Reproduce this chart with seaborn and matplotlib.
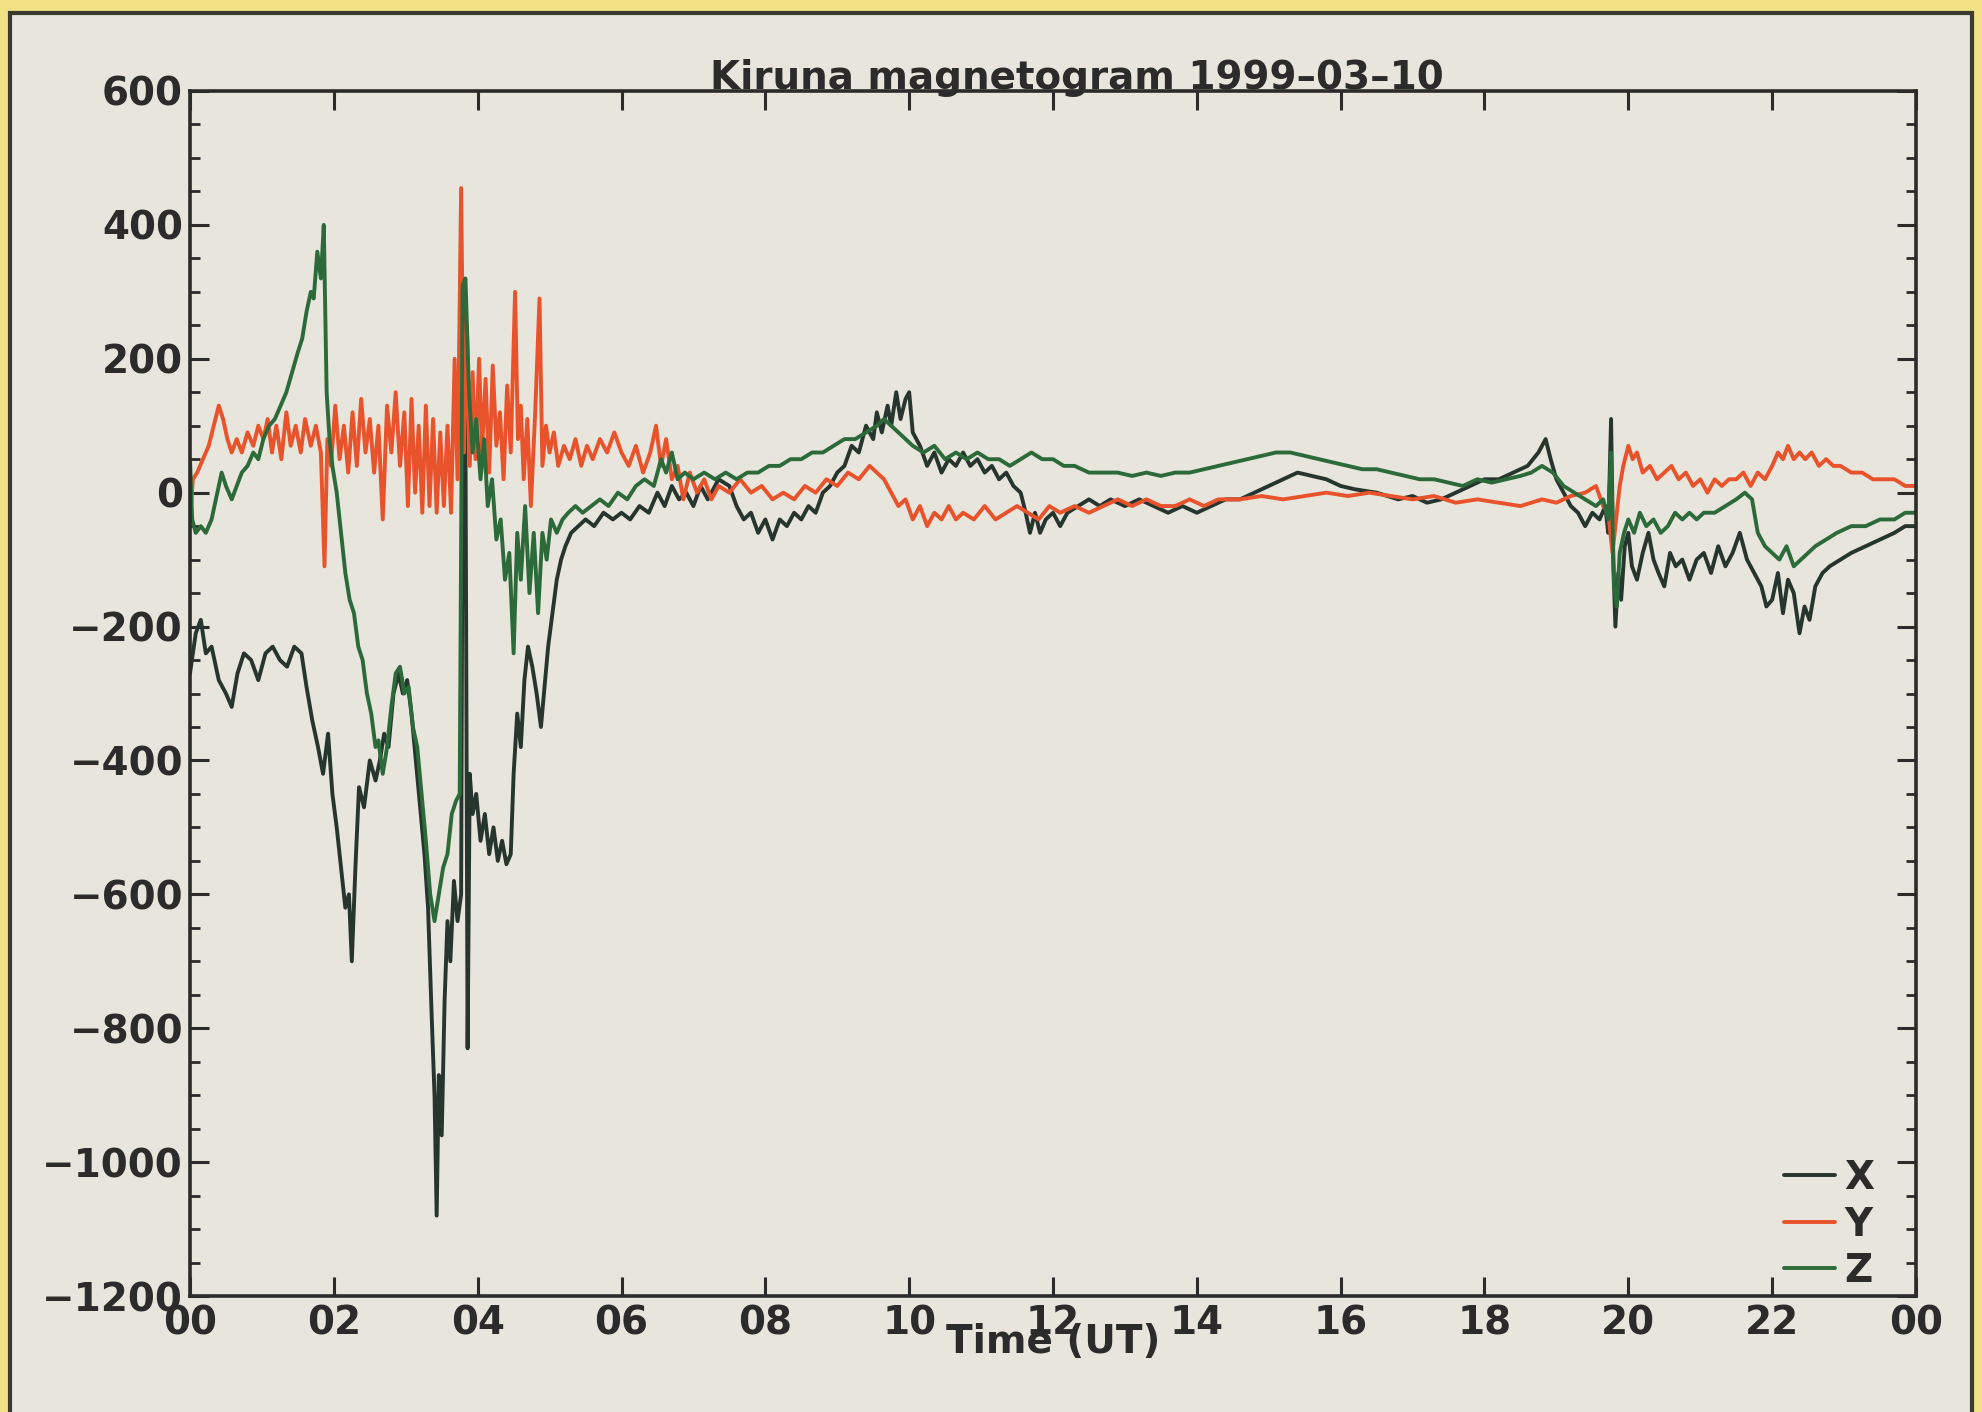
import numpy as np
import pandas as pd
import matplotlib
matplotlib.use("Agg")
import matplotlib.pyplot as plt
from matplotlib.patches import Rectangle
from matplotlib.ticker import MultipleLocator, FixedLocator, FixedFormatter
import seaborn as sns

# ---------------- data ----------------
tx = [0.00,0.08,0.15,0.22,0.30,0.40,0.50,0.58,0.66,0.75,0.85,0.95,1.05,1.15,1.25,1.35,1.45,1.55,1.62,1.70,
      1.78,1.85,1.92,1.98,2.04,2.10,2.16,2.21,2.25,2.30,2.35,2.42,2.50,2.58,2.64,2.70,2.76,2.83,2.90,2.96,
      3.02,3.08,3.14,3.20,3.26,3.31,3.36,3.40,3.43,3.46,3.50,3.54,3.58,3.62,3.67,3.72,3.77,3.80,3.83,3.86,
      3.89,3.93,3.98,4.04,4.10,4.16,4.22,4.28,4.34,4.40,4.46,4.50,4.55,4.60,4.65,4.70,4.76,4.82,4.88,4.93,
      4.98,5.04,5.10,5.16,5.22,5.30,5.40,5.50,5.62,5.75,5.88,6.00,6.12,6.25,6.38,6.50,6.60,6.70,6.80,6.90,
      7.00,7.10,7.20,7.35,7.50,7.60,7.70,7.80,7.90,8.00,8.10,8.20,8.30,8.40,8.50,8.60,8.70,8.80,8.90,9.00,
      9.10,9.20,9.30,9.40,9.50,9.55,9.62,9.70,9.75,9.82,9.88,9.95,10.00,10.05,10.15,10.25,10.35,10.45,10.55,10.65,
      10.75,10.85,10.95,11.05,11.15,11.25,11.35,11.45,11.55,11.62,11.68,11.75,11.82,11.90,12.00,12.10,12.20,12.35,12.50,12.65,
      12.80,13.00,13.20,13.40,13.60,13.80,14.00,14.20,14.40,14.60,14.80,15.00,15.20,15.40,15.60,15.80,16.00,16.20,16.50,16.80,
      17.00,17.20,17.40,17.60,17.80,18.00,18.20,18.40,18.60,18.75,18.85,18.92,19.00,19.10,19.20,19.30,19.40,19.50,19.60,19.68,
      19.72,19.76,19.79,19.82,19.86,19.90,19.95,20.00,20.05,20.12,20.20,20.28,20.35,20.42,20.50,20.58,20.66,20.75,20.85,20.95,
      21.05,21.15,21.25,21.35,21.45,21.55,21.65,21.75,21.85,21.92,22.00,22.08,22.15,22.22,22.30,22.38,22.45,22.52,22.60,22.70,
      22.80,22.95,23.10,23.30,23.50,23.70,23.85,24.00]
vx = [-270,-210,-190,-240,-230,-280,-300,-320,-270,-240,-250,-280,-240,-230,-250,-260,-230,-240,-290,-340,
      -380,-420,-360,-450,-500,-560,-620,-600,-700,-560,-440,-470,-400,-430,-400,-360,-380,-300,-270,-300,
      -280,-330,-400,-470,-540,-620,-780,-900,-1080,-870,-960,-760,-640,-700,-580,-640,-600,320,100,-830,
      -420,-480,-450,-520,-480,-540,-500,-550,-520,-555,-540,-420,-330,-380,-280,-230,-260,-300,-350,-290,
      -230,-180,-130,-100,-80,-60,-50,-40,-50,-30,-40,-30,-40,-20,-30,0,-20,10,-10,0,
      -20,10,-10,20,10,-20,-40,-30,-60,-40,-70,-40,-50,-30,-40,-20,-30,0,10,30,
      40,70,60,100,80,120,90,130,100,150,110,140,150,90,70,40,60,30,50,40,
      60,40,50,30,40,20,30,10,0,-30,-60,-30,-60,-40,-30,-50,-30,-20,-10,-20,
      -10,-20,-10,-20,-30,-20,-30,-20,-10,-10,0,10,20,30,25,20,10,5,0,-10,
      -5,-15,-10,0,10,20,20,30,40,60,80,50,20,0,-20,-30,-50,-30,-40,-20,
      -60,110,-100,-200,-120,-160,-80,-60,-110,-130,-90,-60,-100,-120,-140,-90,-110,-100,-130,-100,
      -90,-120,-80,-110,-90,-60,-100,-120,-140,-170,-160,-120,-180,-130,-150,-210,-170,-190,-140,-120,
      -110,-100,-90,-80,-70,-60,-50,-50]

ty = [0.00,0.04,0.10,0.18,0.26,0.33,0.40,0.46,0.52,0.58,0.65,0.72,0.80,0.88,0.95,1.02,1.08,1.14,1.20,1.27,
      1.34,1.40,1.47,1.54,1.60,1.68,1.75,1.82,1.87,1.91,1.96,2.02,2.08,2.14,2.20,2.26,2.32,2.38,2.44,2.50,
      2.56,2.62,2.68,2.74,2.80,2.86,2.92,2.98,3.03,3.08,3.13,3.18,3.23,3.28,3.33,3.38,3.43,3.48,3.53,3.58,
      3.63,3.68,3.72,3.77,3.81,3.85,3.89,3.93,3.97,4.02,4.06,4.11,4.16,4.21,4.26,4.31,4.36,4.41,4.46,4.52,
      4.56,4.60,4.64,4.69,4.74,4.80,4.86,4.90,4.95,5.00,5.06,5.12,5.20,5.28,5.36,5.44,5.52,5.60,5.70,5.80,
      5.90,6.00,6.10,6.20,6.30,6.40,6.48,6.55,6.62,6.70,6.78,6.86,6.95,7.05,7.15,7.25,7.35,7.50,7.65,7.80,
      7.95,8.10,8.25,8.40,8.55,8.70,8.85,9.00,9.15,9.30,9.45,9.55,9.65,9.75,9.85,9.95,10.05,10.15,10.25,10.35,
      10.45,10.55,10.65,10.75,10.90,11.05,11.20,11.35,11.50,11.65,11.80,11.95,12.10,12.30,12.50,12.70,12.90,13.10,13.30,13.50,
      13.70,13.90,14.10,14.30,14.60,14.90,15.20,15.50,15.80,16.10,16.40,16.70,17.00,17.30,17.60,17.90,18.20,18.50,18.80,19.00,
      19.20,19.40,19.55,19.65,19.72,19.78,19.83,19.88,19.93,20.00,20.06,20.12,20.20,20.30,20.40,20.50,20.60,20.70,20.80,20.90,
      21.00,21.10,21.20,21.30,21.40,21.50,21.60,21.70,21.80,21.90,22.00,22.08,22.15,22.22,22.30,22.38,22.46,22.55,22.65,22.75,
      22.85,22.95,23.10,23.25,23.40,23.55,23.70,23.85,24.00]
vy = [-40,20,30,50,70,100,130,110,80,60,80,60,90,70,100,80,110,60,100,50,
      120,70,100,60,110,70,100,60,-110,80,40,130,50,100,30,120,40,140,60,110,
      30,100,-40,130,60,150,40,120,-20,140,0,100,-30,130,-20,110,-30,90,-20,100,
      -30,200,20,455,60,250,40,180,50,200,60,170,30,190,70,120,20,160,60,300,
      80,130,20,110,-20,120,290,40,100,60,90,40,70,50,80,40,70,50,80,60,
      90,60,40,70,30,60,100,40,80,20,40,-10,30,0,20,-10,10,0,20,0,
      10,-10,0,-10,10,0,20,10,30,20,40,30,20,0,-20,-10,-40,-20,-50,-30,
      -40,-20,-40,-30,-40,-20,-40,-30,-20,-30,-40,-20,-30,-20,-30,-20,-10,-20,-10,-20,
      -20,-10,-20,-10,-10,-5,-10,-5,0,-5,0,-5,-10,-5,-15,-10,-15,-20,-10,-15,
      -5,0,10,-20,-30,-90,-40,10,40,70,50,60,30,40,20,30,40,20,30,10,
      20,0,20,10,20,20,30,10,30,20,40,60,50,70,50,60,50,60,40,50,
      40,40,30,30,20,20,20,10,10]

tz = [0.00,0.03,0.08,0.15,0.22,0.30,0.38,0.44,0.50,0.58,0.65,0.72,0.80,0.88,0.95,1.02,1.10,1.18,1.26,1.34,
      1.42,1.50,1.56,1.62,1.68,1.72,1.77,1.82,1.86,1.90,1.94,1.98,2.04,2.10,2.16,2.22,2.28,2.34,2.40,2.46,
      2.52,2.58,2.62,2.68,2.74,2.80,2.86,2.92,2.98,3.04,3.10,3.16,3.22,3.28,3.34,3.40,3.46,3.52,3.58,3.64,
      3.70,3.75,3.79,3.83,3.88,3.93,3.98,4.04,4.09,4.14,4.20,4.26,4.32,4.38,4.44,4.50,4.55,4.60,4.66,4.72,
      4.78,4.84,4.90,4.96,5.02,5.10,5.18,5.26,5.36,5.46,5.58,5.70,5.82,5.95,6.08,6.20,6.32,6.45,6.55,6.62,
      6.70,6.78,6.88,7.00,7.15,7.30,7.45,7.60,7.75,7.90,8.05,8.20,8.35,8.50,8.65,8.80,8.95,9.10,9.25,9.40,
      9.55,9.65,9.75,9.85,9.95,10.05,10.20,10.35,10.50,10.65,10.80,10.95,11.10,11.25,11.40,11.55,11.70,11.85,12.00,12.15,
      12.30,12.50,12.70,12.90,13.10,13.30,13.50,13.70,13.90,14.10,14.30,14.50,14.70,14.90,15.10,15.30,15.50,15.70,15.90,16.10,
      16.30,16.50,16.70,16.90,17.10,17.30,17.50,17.70,17.90,18.10,18.30,18.50,18.65,18.80,18.95,19.10,19.25,19.40,19.55,19.65,
      19.72,19.76,19.80,19.84,19.88,19.94,20.00,20.08,20.16,20.25,20.35,20.45,20.55,20.65,20.75,20.85,20.95,21.05,21.20,21.35,
      21.50,21.62,21.72,21.80,21.90,22.00,22.10,22.20,22.30,22.40,22.50,22.60,22.75,22.90,23.10,23.30,23.50,23.70,23.85,24.00]
vz = [50,-40,-60,-50,-60,-40,0,30,10,-10,10,30,40,60,50,80,100,110,130,150,
      180,210,230,270,300,290,360,320,400,150,80,40,0,-60,-120,-160,-180,-230,-250,-300,
      -330,-380,-370,-420,-380,-320,-270,-260,-300,-290,-350,-380,-450,-520,-600,-640,-600,-560,-540,-480,
      -460,-450,310,320,150,60,110,20,80,-20,20,-70,-40,-130,-90,-240,-60,-130,-20,-150,
      -60,-180,-60,-100,-40,-60,-40,-30,-20,-30,-20,-10,-20,0,-10,10,20,10,50,30,
      60,20,30,20,30,20,30,20,30,30,40,40,50,50,60,60,70,80,80,90,
      100,110,100,90,80,70,60,70,50,60,50,60,50,50,40,50,60,50,50,40,
      40,30,30,30,25,30,25,30,30,35,40,45,50,55,60,60,55,50,45,40,
      35,35,30,25,20,20,15,10,20,15,20,25,30,40,30,10,0,-10,-20,-10,
      -40,60,-140,-170,-90,-60,-40,-60,-30,-50,-40,-60,-50,-30,-40,-30,-40,-30,-30,-20,
      -10,0,-10,-60,-80,-90,-100,-80,-110,-100,-90,-80,-70,-60,-50,-50,-40,-40,-30,-30]

components = ["X", "Y", "Z"]
colors = {"X": "#27352f", "Y": "#e8532c", "Z": "#2d6a3a"}
xtick_pos = list(range(0, 25, 2))
xtick_labels = ["00", "02", "04", "06", "08", "10", "12", "14", "16", "18", "20", "22", "00"]
ytick_pos = list(range(-1200, 601, 200))
ytick_labels = ["\u22121200", "\u22121000", "\u2212800", "\u2212600", "\u2212400", "\u2212200",
                "0", "200", "400", "600"]
title_text = "Kiruna magnetogram 1999\u201303\u201310"
xlabel_text = "Time (UT)"

df = pd.concat([
    pd.DataFrame({"t": tx, "v": vx, "comp": "X"}),
    pd.DataFrame({"t": ty, "v": vy, "comp": "Y"}),
    pd.DataFrame({"t": tz, "v": vz, "comp": "Z"}),
], ignore_index=True)

# ---------------- style ----------------
sns.set_theme(style="ticks")
plt.rcParams["font.family"] = ["DejaVu Sans"]
plt.rcParams["font.weight"] = "bold"

yellow = "#f1e184"
panel = "#e7e5dc"
ink = "#2b2b2b"

fig = plt.figure(figsize=(19.82, 14.12), dpi=100, facecolor=yellow)
bg = Rectangle((10 / 1982, -0.02), 1962 / 1982, 1.02 - 13 / 1412,
               transform=fig.transFigure, facecolor=panel,
               edgecolor="#3a3a30", linewidth=3, zorder=-10)
fig.patches.append(bg)

ax = fig.add_axes([190 / 1982, 1 - 1296 / 1412, 1726 / 1982, (1296 - 91) / 1412])
ax.set_zorder(5)
ax.set_facecolor("none")

sns.lineplot(data=df, x="t", y="v", hue="comp", hue_order=components,
             palette=colors, estimator=None, sort=False, linewidth=2.8, ax=ax)

ax.set_xlim(0, 24)
ax.set_ylim(-1200, 600)
ax.xaxis.set_major_locator(FixedLocator(xtick_pos))
ax.xaxis.set_major_formatter(FixedFormatter(xtick_labels))
ax.yaxis.set_major_locator(FixedLocator(ytick_pos))
ax.yaxis.set_major_formatter(FixedFormatter(ytick_labels))
ax.yaxis.set_minor_locator(MultipleLocator(50))

ax.tick_params(axis="both", which="both", direction="in", top=True, right=True,
               colors=ink, labelcolor=ink)
ax.tick_params(axis="both", which="major", length=14, width=2.2, labelsize=28)
ax.tick_params(axis="y", which="minor", length=7, width=2)
ax.tick_params(axis="x", which="major", pad=6)
ax.tick_params(axis="y", which="major", pad=5)
for s in ax.spines.values():
    s.set_color(ink)
    s.set_linewidth(2.6)

ax.text(0.514, 1.002, title_text, transform=ax.transAxes, ha="center", va="baseline",
        fontsize=28, color=ink, fontweight="bold")
ax.set_xlabel(xlabel_text, fontsize=28, color=ink, labelpad=-14, fontweight="bold")
ax.set_ylabel("")

handles, labels = ax.get_legend_handles_labels()
leg = ax.legend(handles, labels, loc="lower right", bbox_to_anchor=(0.985, -0.008),
                frameon=False, handlelength=1.3, handletextpad=0.25, labelspacing=0.22,
                fontsize=28, borderaxespad=0)
for t in leg.get_texts():
    t.set_color(ink)

fig.savefig("out.png", dpi=100, facecolor=yellow)
